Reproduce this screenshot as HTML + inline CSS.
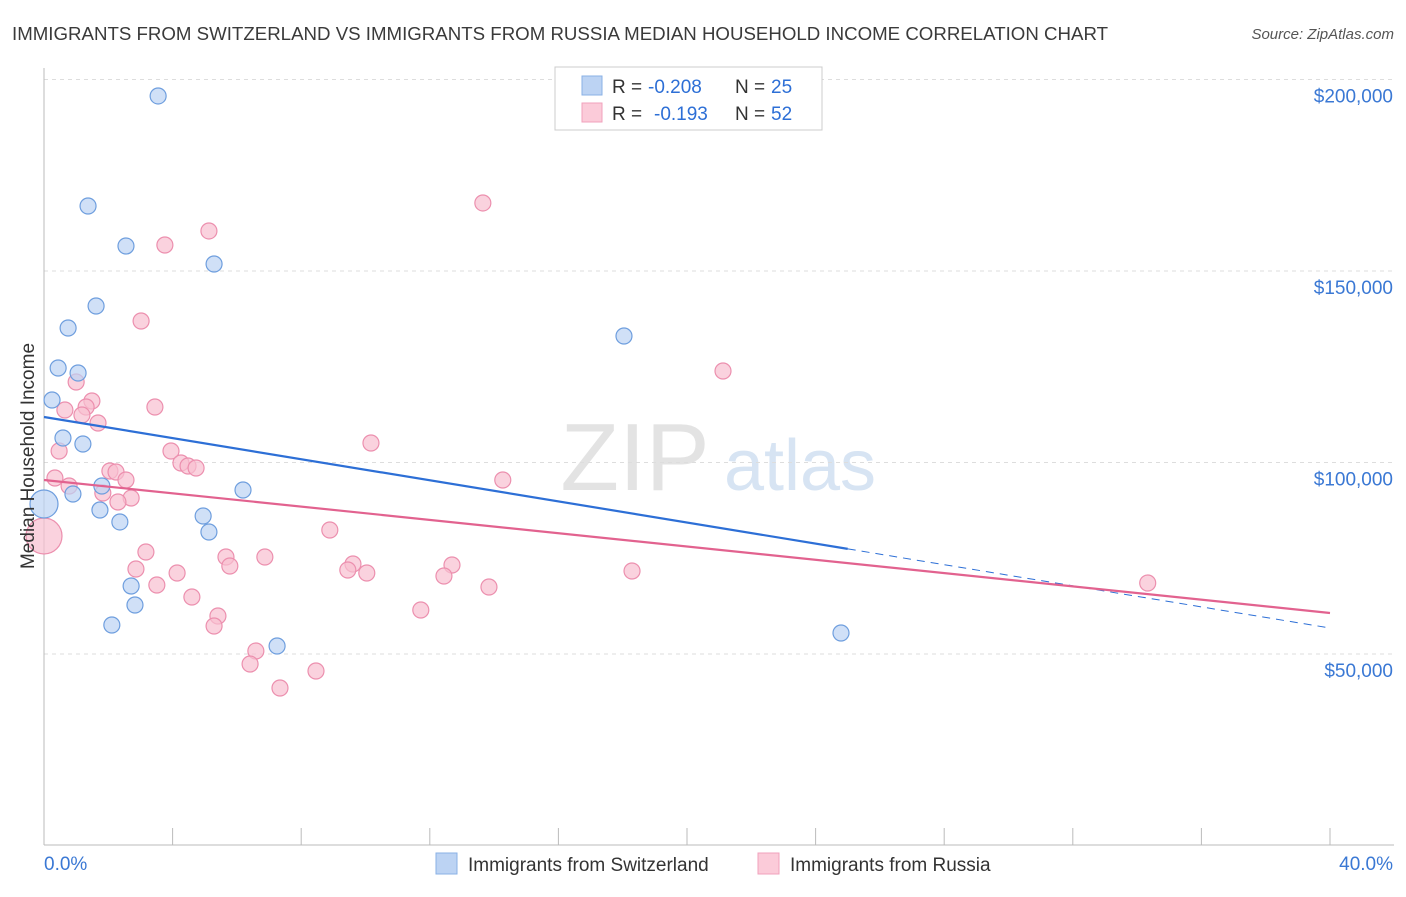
<!DOCTYPE html>
<html><head><meta charset="utf-8"><style>
body{margin:0;background:#fff;font-family:"Liberation Sans",sans-serif}
svg text{font-family:"Liberation Sans",sans-serif}
</style></head><body>
<svg id="chart" width="1406" height="892">
<text x="12" y="40" font-size="18" fill="#3a3a3a" textLength="1096" lengthAdjust="spacingAndGlyphs">IMMIGRANTS FROM SWITZERLAND VS IMMIGRANTS FROM RUSSIA MEDIAN HOUSEHOLD INCOME CORRELATION CHART</text>
<text x="1394" y="39" font-size="15" fill="#555" text-anchor="end" font-style="italic">Source: ZipAtlas.com</text>
<g>
<text x="635" y="490" font-size="96" fill="#e3e3e3" text-anchor="middle" font-family="Liberation Serif,serif">ZIP</text>
<text x="800" y="490" font-size="72" fill="#d7e4f3" text-anchor="middle">atlas</text></g>
<g id="grid"></g><g id="axes"></g><g id="marks"></g>
<text x="34" y="456" font-size="19" fill="#333" text-anchor="middle" transform="rotate(-90 34 456)">Median Household Income</text>
<g>
<rect x="555" y="67" width="267" height="63" fill="#fff" stroke="#ccc"/>
<rect x="582" y="76" width="20" height="19" fill="#bcd3f3" stroke="#8ab0e6"/>
<rect x="582" y="103" width="20" height="19" fill="#fbcbd9" stroke="#f0a2bc"/>
<text x="612" y="93" font-size="19" fill="#333">R =</text>
<text x="648" y="93" font-size="19" fill="#2d6fd6">-0.208</text>
<text x="735" y="93" font-size="19" fill="#333">N =</text>
<text x="771" y="93" font-size="19" fill="#2d6fd6">25</text>
<text x="612" y="120" font-size="19" fill="#333">R =</text>
<text x="654" y="120" font-size="19" fill="#2d6fd6">-0.193</text>
<text x="735" y="120" font-size="19" fill="#333">N =</text>
<text x="771" y="120" font-size="19" fill="#2d6fd6">52</text>
</g>
<g>
<rect x="436" y="853" width="21" height="21" fill="#bcd3f3" stroke="#8ab0e6"/>
<text x="468" y="871" font-size="19" fill="#333">Immigrants from Switzerland</text>
<rect x="758" y="853" width="21" height="21" fill="#fbcbd9" stroke="#f0a2bc"/>
<text x="790" y="871" font-size="19" fill="#333">Immigrants from Russia</text>
</g>
</svg>
<script>
const yTicks=[50000,100000,150000,200000];
const yTickLabels=["$50,000","$100,000","$150,000","$200,000"];
const xTicks=[0,4,8,12,16,20,24,28,32,36,40];
const blueX=[3.55,1.37,2.55,5.29,1.62,0.75,18.04,0.44,1.06,0.25,0.59,1.21,6.19,1.80,0.90,0.0,1.74,4.95,2.36,5.13,2.71,2.83,2.11,7.25,24.79];
const blueY=[195700,166970,156530,151830,140860,135120,133030,124670,123370,116320,106400,104830,92820,93860,91780,89170,87600,86030,84470,81850,67750,62790,57570,52090,55480];
const pinkX=[13.65,5.13,3.76,3.02,21.12,1.00,1.49,1.31,0.65,3.45,1.18,1.68,10.17,3.95,0.47,4.26,4.48,4.73,2.05,2.24,14.27,2.55,0.34,0.78,1.83,2.71,2.30,0,8.89,3.17,5.66,6.87,9.61,5.78,12.69,9.45,10.04,18.29,2.86,4.14,12.44,3.51,13.84,34.33,4.60,5.41,11.72,5.29,6.59,6.41,8.46,7.34];
const pinkY=[167760,160450,156790,136950,123890,121020,116060,114490,113710,114490,112400,110310,105090,103000,103000,99870,99090,98560,97780,97520,95430,95430,95950,93860,92040,90730,89690,80810,82380,76630,75330,75330,73500,72980,73240,71930,71150,71670,72190,71150,70370,68020,67490,68540,64880,59920,61490,57310,50780,47390,45560,41120];
const blueTrend=[111880,56790];
const pinkTrend=[95430,60710];
const blueSolidEnd=25;
const X=v=>44+v/40*1286;
const Y=v=>654-(v-50000)*191.5/50000;
const NS="http://www.w3.org/2000/svg";
function mk(t,a,p){const e=document.createElementNS(NS,t);for(const k in a)e.setAttribute(k,a[k]);p.appendChild(e);return e;}
const grid=document.getElementById('grid'),axes=document.getElementById('axes'),marks=document.getElementById('marks');
yTicks.forEach((t,i)=>{
 const l=mk('line',{x1:44,x2:1394,y1:Y(t),y2:Y(t),stroke:'#ddd','stroke-dasharray':'4,4'},grid);
 
 
 const tx=mk('text',{x:1393,y:Y(t)+23,'font-size':19,fill:'#3a78d4','text-anchor':'end'},axes);
 tx.textContent=yTickLabels[i];
 
 
});
const ax=mk('line',{x1:44,x2:1394,y1:845,y2:845,stroke:'#bbb'},axes);


const ay=mk('line',{x1:44,x2:44,y1:68,y2:845,stroke:'#bbb'},axes);


xTicks.forEach(t=>{
 const l=mk('line',{x1:X(t),x2:X(t),y1:828,y2:845,stroke:'#bbb'},axes);
 
 
});
[[0,'0.0%','start',44],[40,'40.0%','end',1393]].forEach(d=>{
 const tx=mk('text',{x:d[3],y:870,'font-size':19,fill:'#3a78d4','text-anchor':d[2]},axes);
 tx.textContent=d[1];
 
 
});
function dots(xs,ys,fill,stroke,name,bigR){
 xs.forEach((x,i)=>{
  const r=(x===0)?bigR:8;
  const c=mk('circle',{cx:X(x),cy:Y(ys[i]),r:r,fill:fill,'fill-opacity':0.7,stroke:stroke,'stroke-width':1.2},marks);
  
  
 });
}
dots(pinkX,pinkY,'#f8bfd0','#ec8fae','russia-point',18);
dots(blueX,blueY,'#bcd3f3','#6e9ede','switzerland-point',14);
const bAt=x=>blueTrend[0]+(blueTrend[1]-blueTrend[0])*x/40;
const bl=mk('line',{x1:X(0),y1:Y(blueTrend[0]),x2:X(blueSolidEnd),y2:Y(bAt(blueSolidEnd)),stroke:'#2d6fd6','stroke-width':2.2},marks);


const bd=mk('line',{x1:X(blueSolidEnd),y1:Y(bAt(blueSolidEnd)),x2:X(40),y2:Y(blueTrend[1]),stroke:'#2d6fd6','stroke-width':1,'stroke-dasharray':'8,6'},marks);


const pl=mk('line',{x1:X(0),y1:Y(pinkTrend[0]),x2:X(40),y2:Y(pinkTrend[1]),stroke:'#e2628f','stroke-width':2.2},marks);


</script>
</body></html>
